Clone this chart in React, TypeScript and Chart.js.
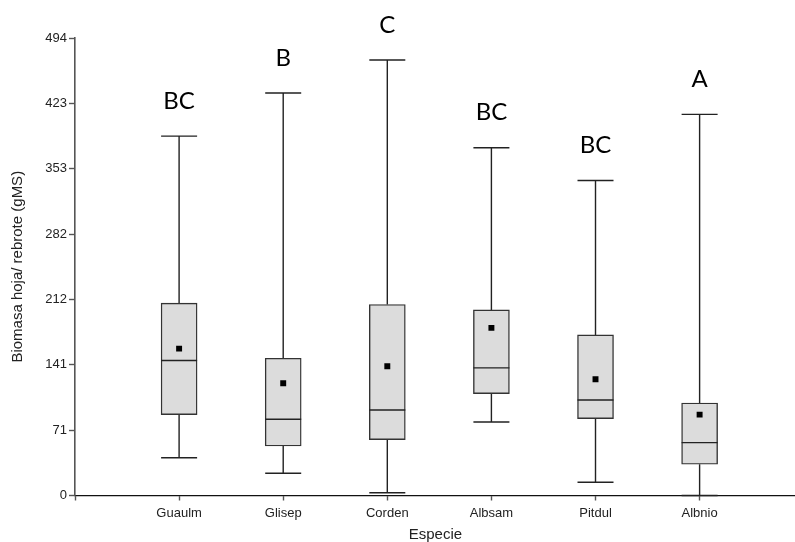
import React, { useEffect, useRef } from "react";
import { Chart, registerables } from "chart.js";

Chart.register(...registerables);

const categories = ["Guaulm", "Glisep", "Corden", "Albsam", "Pitdul", "Albnio"];
const whiskerMin = [40.8, 24.0, 3.0, 79.4, 14.3, 0];
const q1 = [87.3, 53.5, 60.3, 110.0, 83.0, 33.7];
const median = [145.7, 82.3, 92.4, 137.8, 103.2, 57.1];
const q3 = [207.7, 148.2, 206.2, 200.4, 173.4, 99.9];
const whiskerMax = [388.1, 434.6, 470.2, 375.5, 340.1, 411.5];
const means = [158.6, 121.2, 139.6, 181.0, 125.6, 87.3];
const groupLetters = ["BC", "B", "C", "BC", "BC", "A"];
const yTickLabels = [0, 71, 141, 212, 282, 353, 423, 494];
const yMax = 494;

const BOX_W = 36;
const LINE = "#222";
const AXIS = "#555";
const FONT = "'Liberation Sans', Arial, sans-serif";

const boxPlugin = {
  id: "boxExtras",
  beforeDatasetsDraw(chart: any) {
    const ctx = chart.ctx;
    const xs = chart.scales.x;
    const ys = chart.scales.y;
    ctx.save();
    ctx.strokeStyle = LINE;
    ctx.lineWidth = 1.4;
    categories.forEach((_, i) => {
      const x = xs.getPixelForValue(i);
      const pairs = [
        [q3[i], whiskerMax[i]],
        [q1[i], whiskerMin[i]],
      ];
      pairs.forEach(([from, to]) => {
        const y0 = ys.getPixelForValue(from);
        const y1 = ys.getPixelForValue(to);
        ctx.beginPath();
        ctx.moveTo(x, y0);
        ctx.lineTo(x, y1);
        ctx.moveTo(x - BOX_W / 2, y1);
        ctx.lineTo(x + BOX_W / 2, y1);
        ctx.stroke();
      });
    });
    ctx.restore();
  },
  afterDatasetDraw(chart: any, args: any) {
    if (args.index !== 0) return;
    const ctx = chart.ctx;
    const xs = chart.scales.x;
    const ys = chart.scales.y;
    ctx.save();
    ctx.strokeStyle = LINE;
    ctx.lineWidth = 1.4;
    categories.forEach((_, i) => {
      const x = xs.getPixelForValue(i);
      const y = ys.getPixelForValue(median[i]);
      ctx.beginPath();
      ctx.moveTo(x - BOX_W / 2, y);
      ctx.lineTo(x + BOX_W / 2, y);
      ctx.stroke();
    });
    ctx.restore();
  },
  afterDraw(chart: any) {
    const ctx = chart.ctx;
    const xs = chart.scales.x;
    const ys = chart.scales.y;
    ctx.save();
    ctx.fillStyle = "#000";
    ctx.font = "24px Lato, 'Open Sans', sans-serif";
    ctx.textAlign = "center";
    ctx.textBaseline = "middle";
    groupLetters.forEach((t, i) => {
      const x = xs.getPixelForValue(i);
      const y = ys.getPixelForValue(whiskerMax[i]) - 35;
      ctx.fillText(t, x, y);
    });
    ctx.restore();
  },
};

export default function App() {
  const ref = useRef<HTMLCanvasElement | null>(null);
  useEffect(() => {
    if (!ref.current) return;
    const chart = new Chart(ref.current, {
      type: "bar",
      data: {
        datasets: [
          {
            type: "bar",
            order: 1,
            data: categories.map((_, i) => ({ x: i, y: [q1[i], q3[i]] })) as any,
            backgroundColor: "#dcdcdc",
            borderColor: "#333",
            borderWidth: 1.4,
            borderSkipped: false,
            barThickness: BOX_W,
          } as any,
          {
            type: "scatter",
            order: 0,
            data: categories.map((_, i) => ({ x: i, y: means[i] })),
            pointStyle: "rect",
            pointRadius: 4.2,
            backgroundColor: "#000",
            borderColor: "#000",
            borderWidth: 0,
          } as any,
        ],
      },
      plugins: [boxPlugin],
      options: {
        responsive: false,
        animation: false,
        events: [],
        layout: { padding: { top: 38, right: 0, left: 0, bottom: 0 } },
        plugins: { legend: { display: false }, tooltip: { enabled: false } },
        scales: {
          x: {
            type: "linear",
            min: -1,
            max: 5.924,
            offset: false,
            afterBuildTicks: (s: any) => {
              s.ticks = [-1, 0, 1, 2, 3, 4, 5].map((v) => ({ value: v }));
            },
            afterFit: (s: any) => {
              s.height = 46.5;
            },
            ticks: {
              autoSkip: false,
              maxRotation: 0,
              padding: 5,
              color: "#222",
              font: { family: FONT, size: 13 },
              callback: (v: any) => (v >= 0 ? categories[v] : ""),
            },
            grid: {
              display: true,
              offset: false,
              drawOnChartArea: false,
              drawTicks: true,
              tickLength: 5,
              tickColor: AXIS,
              tickWidth: 1.4,
            },
            border: { display: true, color: "#111", width: 1.2 },
            title: {
              display: true,
              text: "Especie",
              color: "#222",
              font: { family: FONT, size: 15, lineHeight: 1 },
              padding: { top: 0, bottom: 0 },
            },
          },
          y: {
            type: "linear",
            min: 0,
            max: yMax,
            afterBuildTicks: (s: any) => {
              s.ticks = yTickLabels.map((_, i) => ({ value: (i * yMax) / 7 }));
            },
            afterFit: (s: any) => {
              s.width = 75;
            },
            ticks: {
              autoSkip: false,
              padding: 2,
              color: "#222",
              font: { family: FONT, size: 13 },
              callback: (_v: any, i: number) => String(yTickLabels[i]),
            },
            grid: {
              display: true,
              offset: false,
              drawOnChartArea: false,
              drawTicks: true,
              tickLength: 6,
              tickColor: AXIS,
              tickWidth: 1.4,
            },
            border: { display: true, color: AXIS, width: 1.6 },
            title: {
              display: true,
              text: "Biomasa hoja/ rebrote (gMS)",
              color: "#222",
              font: { family: FONT, size: 15, lineHeight: 1 },
              padding: { top: 10.5, bottom: 0 },
            },
          },
        },
      },
    } as any);
    return () => chart.destroy();
  }, []);
  return (
    <div style={{ position: "absolute", left: 0, top: 0, width: 795, height: 542, overflow: "hidden" }}>
      <canvas ref={ref} width={800} height={542} style={{ display: "block" }} />
    </div>
  );
}
